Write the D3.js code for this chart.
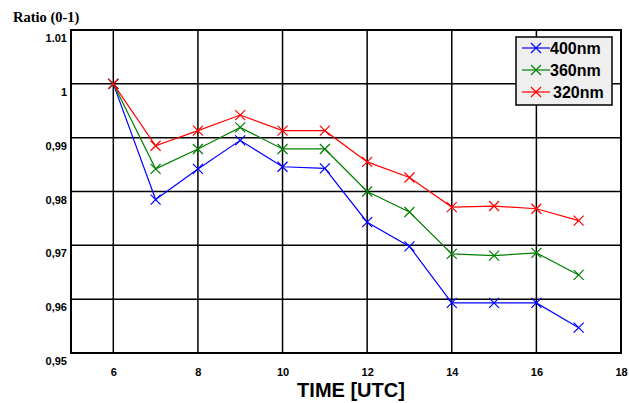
<!DOCTYPE html>
<html>
<head>
<meta charset="utf-8">
<script src="https://cdn.jsdelivr.net/npm/d3@7"></script>
<style>
  body { margin: 0; background: #fff; }
  .tick text { font-family: "Liberation Sans", Arial, sans-serif; font-weight: bold; font-size: 11px; }
</style>
</head>
<body>
<div id="graf"></div>
<script>
// datos
const horas = [6, 7, 8, 9, 10, 11, 12, 13, 14, 15, 16, 17]
const nm400 = [1.0, 0.9785, 0.9842, 0.9895, 0.9846, 0.9843, 0.9743, 0.9698, 0.9593, 0.9593, 0.9593, 0.9547]
const nm360 = [1.0, 0.9842, 0.9879, 0.9919, 0.9879, 0.9879, 0.9800, 0.9762, 0.9684, 0.9681, 0.9686, 0.9645]
const nm320 = [1.0, 0.9885, 0.9913, 0.9942, 0.9913, 0.9913, 0.9855, 0.9826, 0.9771, 0.9773, 0.9768, 0.9746]
const series = ["400nm", "360nm", "320nm"]
const colores = ["#0000ff", "#008000", "#ff0000"]
const xTicks = [6, 8, 10, 12, 14, 16, 18]
const yTicks = [0.95, 0.96, 0.97, 0.98, 0.99, 1, 1.01]
const yLabels = ["0,95", "0,96", "0,97", "0,98", "0,99", "1", "1.01"]

const anchoTotal = 629
const altoTotal = 403
const margins = { left: 71, top: 30, right: 8, bottom: 50 }
const ancho = anchoTotal - margins.left - margins.right
const alto = altoTotal - margins.top - margins.bottom

const svg = d3.select("#graf")
  .append("svg")
  .attr("width", anchoTotal)
  .attr("height", altoTotal)

const g = svg.append("g")
  .attr("transform", `translate(${margins.left}, ${margins.top})`)

const x = d3.scaleLinear().domain([5, 18]).range([0, ancho])
const y = d3.scaleLinear().domain([0.95, 1.01]).range([alto, 0])

// rejilla
g.append("g")
  .selectAll("line.vx")
  .data(xTicks.filter((d) => d < 18))
  .join("line")
  .attr("x1", (d) => x(d)).attr("x2", (d) => x(d))
  .attr("y1", 0).attr("y2", alto)
  .attr("stroke", "#000").attr("stroke-width", 1.5)

g.append("g")
  .selectAll("line.hy")
  .data(yTicks.filter((d) => d > 0.95 && d < 1.01))
  .join("line")
  .attr("x1", 0).attr("x2", ancho)
  .attr("y1", (d) => y(d)).attr("y2", (d) => y(d))
  .attr("stroke", "#000").attr("stroke-width", 1.5)

g.append("rect")
  .attr("width", ancho).attr("height", alto)
  .attr("fill", "none").attr("stroke", "#000").attr("stroke-width", 2)

// ejes
const xAxis = d3.axisBottom(x).tickValues(xTicks).tickSize(0).tickPadding(15)
const yAxis = d3.axisLeft(y).tickValues(yTicks).tickSize(0).tickPadding(4)
  .tickFormat((d, i) => yLabels[i])

const gx = g.append("g").attr("transform", `translate(0, ${alto})`).call(xAxis)
gx.select(".domain").remove()
const gy = g.append("g").call(yAxis)
gy.select(".domain").remove()
gy.selectAll(".tick text").attr("dy", "0.32em").attr("y", 8)

// titulos
g.append("text")
  .attr("x", 280).attr("y", alto + 44)
  .attr("text-anchor", "middle")
  .style("font-family", "Liberation Sans, Arial, sans-serif")
  .style("font-weight", "bold").style("font-size", "20px")
  .text("TIME [UTC]")

svg.append("text")
  .attr("x", 13).attr("y", 22)
  .style("font-family", "Liberation Serif, Times New Roman, serif")
  .style("font-weight", "bold").style("font-size", "14.5px")
  .text("Ratio (0-1)")
svg.append("text")
  .attr("x", 49).attr("y", 14)
  .attr("fill", "#ff0000")
  .style("font-size", "7px")
  .text("'")

// series
const datos = [nm400, nm360, nm320]
const linea = d3.line().x((d, i) => x(horas[i])).y((d) => y(d))
const cruz = (cx, cy, s) => `M${cx - s},${cy - s}L${cx + s},${cy + s}M${cx - s},${cy + s}L${cx + s},${cy - s}`

datos.forEach((serie, k) => {
  g.append("path")
    .datum(serie)
    .attr("d", linea)
    .attr("fill", "none")
    .attr("stroke", colores[k])
    .attr("stroke-width", 1.2)
  g.append("g")
    .selectAll("path")
    .data(serie)
    .join("path")
    .attr("d", (d, i) => cruz(x(horas[i]), y(d), 5))
    .attr("stroke", colores[k])
    .attr("stroke-width", 1.2)
})

// leyenda
const ley = svg.append("g").attr("transform", "translate(516, 37)")
ley.append("rect")
  .attr("width", 96).attr("height", 68)
  .attr("fill", "#efefef").attr("stroke", "#000").attr("stroke-width", 1.5)
series.forEach((s, k) => {
  const yy = 11 + k * 22
  ley.append("line")
    .attr("x1", 6).attr("x2", 34).attr("y1", yy).attr("y2", yy)
    .attr("stroke", colores[k]).attr("stroke-width", 1.2)
  ley.append("path")
    .attr("d", cruz(20, yy, 5))
    .attr("stroke", colores[k]).attr("stroke-width", 1.2)
  ley.append("text")
    .attr("x", k === 2 ? 37 : 34).attr("y", yy).attr("dy", "0.35em")
    .style("font-family", "Liberation Sans, Arial, sans-serif")
    .style("font-weight", "bold").style("font-size", "16px")
    .text(s)
})
</script>
</body>
</html>
